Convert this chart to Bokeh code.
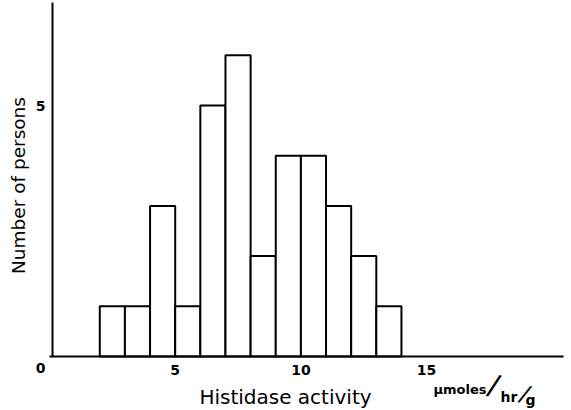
import math
from bokeh.plotting import figure
from bokeh.models import Range1d, FixedTicker, Label, LinearAxis
from bokeh.embed import file_html
from bokeh.resources import INLINE

# Histogram data: histidase activity bins (µmoles/hr/g) and number of persons
bin_left = [2, 3, 4, 5, 6, 7, 8, 9, 10, 11, 12, 13]
bin_right = [3, 4, 5, 6, 7, 8, 9, 10, 11, 12, 13, 14]
counts = [1, 1, 3, 1, 5, 6, 2, 4, 4, 3, 2, 1]
x_ticks = [5, 10, 15]
y_ticks = [5]

p = figure(width=571, height=410, output_backend="svg", toolbar_location=None,
           x_range=Range1d(-1.949, 20.764), y_range=Range1d(-1.076, 7.092),
           x_axis_location=None, y_axis_location=None,
           min_border=0)
p.background_fill_color = "white"
p.border_fill_color = "white"
p.outline_line_color = None
p.grid.visible = False

p.quad(left=bin_left, right=bin_right, bottom=0, top=counts,
       fill_color="white", line_color="black", line_width=2)

xaxis = LinearAxis(fixed_location=0, bounds=(0, 20.45),
                   ticker=FixedTicker(ticks=x_ticks))
yaxis = LinearAxis(fixed_location=0.119, bounds=(0, 7.05),
                   ticker=FixedTicker(ticks=y_ticks))
for ax in (xaxis, yaxis):
    ax.major_tick_line_color = None
    ax.minor_tick_line_color = None
    ax.axis_line_width = 2
    ax.axis_line_color = "black"
    ax.major_label_text_font = "DejaVu Sans"
    ax.major_label_text_font_size = "14px"
    ax.major_label_text_font_style = "bold"
    ax.major_label_text_color = "black"
xaxis.major_label_standoff = 3
yaxis.major_label_standoff = 1
yaxis.major_label_orientation = "horizontal"
p.add_layout(xaxis, "below")
p.add_layout(yaxis, "left")

def lab(text, x, y, size, style="normal", align="left", baseline="alphabetic", angle=0.0):
    p.add_layout(Label(x=x, y=y, text=text, text_font="DejaVu Sans",
                       text_font_size=size, text_font_style=style,
                       text_align=align, text_baseline=baseline,
                       text_color="black", angle=angle))

lab("0", -0.358, -0.239, "14px", "bold", "center", "middle")
lab("Number of persons", -1.245, 3.406, "18.5px", "normal", "center", "alphabetic", math.pi / 2)
lab("Histidase activity", 9.387, -0.80, "20px", "normal", "center")
lab("µmoles", 15.275, -0.657, "13px", "bold")
lab("/", 17.681, -0.568, "29px", "normal", "center", "middle", -0.28)
lab("hr", 17.94, -0.817, "14px", "bold")
lab("/", 18.914, -0.747, "24px", "normal", "center", "middle", -0.37)
lab("g", 18.934, -0.857, "14px", "bold")

open("out.html", "w").write(file_html(p, INLINE))
